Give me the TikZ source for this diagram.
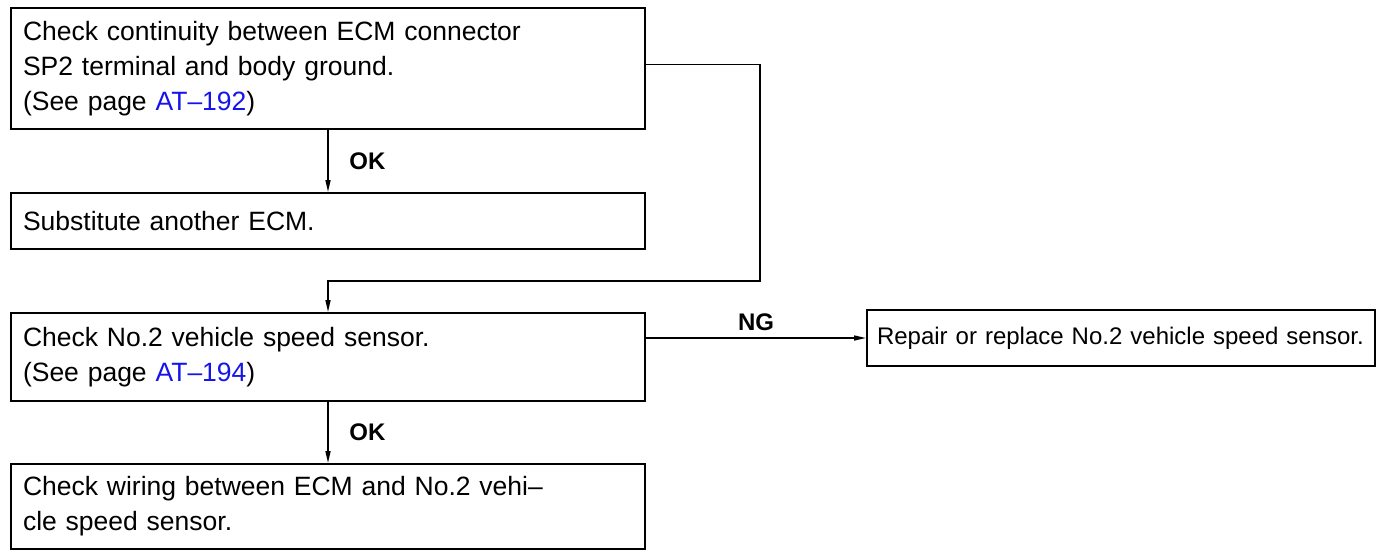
\documentclass[tikz,border=0pt]{standalone}
\usepackage{fontspec}
\setmainfont{Liberation Sans}
\usetikzlibrary{arrows.meta, positioning, calc}

\definecolor{linkblue}{RGB}{20,20,235}
\newcommand{\atlink}[1]{\textcolor{linkblue}{#1}}

\begin{document}
\begin{tikzpicture}[
    box/.style={draw, line width=1pt, text width=305pt, inner xsep=6pt,
                align=left, font=\fontsize{13.25}{17.5}\selectfont},
    lab/.style={font=\fontsize{12}{14}\selectfont\bfseries},
    line/.style={line width=0.75pt},
    >={Triangle[length=6pt, width=2.5pt]}
  ]

  \useasboundingbox (0,0) rectangle (689.5pt,-275.5pt);

  % First check and its OK branch
  \node[box, anchor=north west, minimum height=60.5pt] (contchk) at (5pt,-3.5pt)
    {Check continuity between ECM connector\\SP2 terminal and body ground.\\(See page \atlink{AT–192})};
  \node[box, below=31pt of contchk, minimum height=28pt] (ecmsub)
    {Substitute another ECM.};

  % Second check
  \node[box, below=31pt of ecmsub, minimum height=44pt] (sensorchk)
    {Check No.2 vehicle speed sensor.\\(See page \atlink{AT–194})};
  \node[box, below=30.5pt of sensorchk, minimum height=42.5pt] (wirechk)
    {Check wiring between ECM and No.2 vehi–\\cle speed sensor.};
  \node[box, anchor=north west, yshift=1.5pt, text width=244pt, inner xsep=5pt,
        minimum height=28pt, font=\fontsize{12}{15}\selectfont] (repair)
    at ([xshift=110pt]sensorchk.north east)
    {Repair or replace No.2 vehicle speed sensor.};

  % Connectors
  \coordinate (join) at ($(ecmsub.south)!0.5!(sensorchk.north)$);
  \coordinate (turn) at ([xshift=57pt, yshift=2pt]contchk.east);

  \draw[line, ->] (contchk) -- node[right=7pt, lab] {OK} (ecmsub);
  \draw[line, ->] ([yshift=2pt]contchk.east) -- (turn) |- (join) -- (sensorchk.north);
  \draw[line, ->] (repair.west -| sensorchk.east) -- node[above, lab] {NG} (repair.west);
  \draw[line, ->] (sensorchk) -- node[right=7pt, lab] {OK} (wirechk);

\end{tikzpicture}
\end{document}
